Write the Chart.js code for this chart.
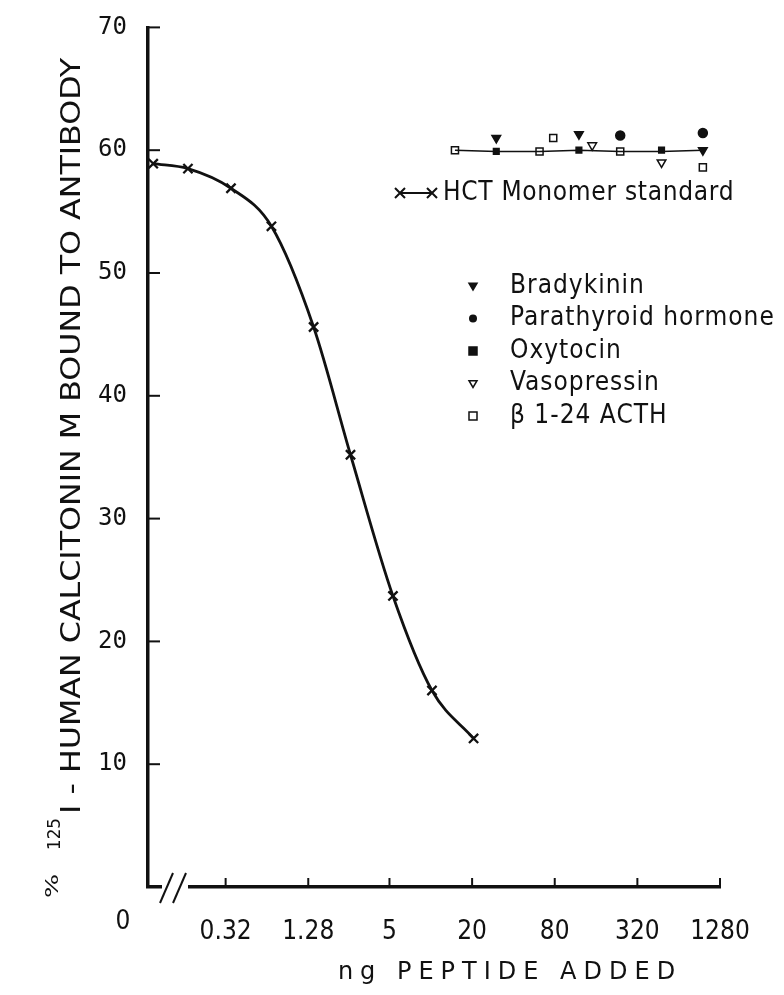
<!DOCTYPE html>
<html>
<head>
<meta charset="utf-8">
<script src="https://cdn.jsdelivr.net/npm/chart.js@4.4.0/dist/chart.umd.min.js"></script>
<style>
  html, body { margin: 0; padding: 0; background: #fff; }
  #wrap { width: 784px; height: 995px; }
</style>
</head>
<body>
<div id="wrap"><canvas id="chart" width="784" height="995"></canvas></div>
<script>
// HCT monomer standard curve
const doseNg = [0.095, 0.17, 0.35, 0.69, 1.4, 2.6, 5.3, 10.2, 20.5];
const boundPct = [58.9, 58.5, 56.9, 53.8, 45.6, 35.2, 23.7, 16.0, 12.1];

// peptides tested for cross-reactivity (row at the top right)
const linkDose = [15, 30, 62, 120, 240, 480, 960];
const linkPct = [60.0, 59.9, 59.9, 60.0, 59.9, 59.9, 60.0];
const bradykininDose = [30, 120, 960];
const bradykininPct = [61.0, 61.3, 60.0];
const pthDose = [240, 960];
const pthPct = [61.2, 61.4];
const oxytocinDose = [30, 120, 480];
const oxytocinPct = [59.9, 60.0, 60.0];
const vasopressinDose = [150, 480];
const vasopressinPct = [60.4, 59.0];
const acthDose = [15, 62, 78, 240, 960];
const acthPct = [60.0, 59.9, 61.0, 59.9, 58.6];

// axes
const xTickValues = [0.32, 1.28, 5, 20, 80, 320, 1280];
const xTickLabels = ["0.32", "1.28", "5", "20", "80", "320", "1280"];
const yTickValues = [10, 20, 30, 40, 50, 60, 70];

const black = "#111";
const condensed = '"DejaVu Sans Condensed", "DejaVu Sans", sans-serif';

function pts(xs, ys) {
  return xs.map((x, i) => ({ x: x, y: ys[i] }));
}

function markerSet(label, xs, ys, style, filled, rotation, radius) {
  return {
    label: label,
    data: pts(xs, ys),
    showLine: false,
    pointStyle: style,
    rotation: rotation || 0,
    pointRadius: radius,
    pointBorderWidth: 1.5,
    pointBorderColor: black,
    pointBackgroundColor: filled ? black : "#fff",
  };
}

// small symbol painter for the legend
function drawSymbol(ctx, kind, x, y, r) {
  ctx.save();
  ctx.strokeStyle = black;
  ctx.fillStyle = black;
  ctx.lineWidth = 1.5;
  ctx.beginPath();
  if (kind === "triDown" || kind === "triDownOpen") {
    ctx.moveTo(x - r, y - r * 0.7);
    ctx.lineTo(x + r, y - r * 0.7);
    ctx.lineTo(x, y + r);
    ctx.closePath();
    if (kind === "triDown") ctx.fill();
    ctx.stroke();
  } else if (kind === "circle") {
    ctx.arc(x, y, r, 0, Math.PI * 2);
    ctx.fill();
  } else if (kind === "square" || kind === "squareOpen") {
    ctx.rect(x - r, y - r, r * 2, r * 2);
    if (kind === "square") ctx.fill();
    ctx.stroke();
  }
  ctx.restore();
}

// text stretched along its run so it fills a given length
function fitText(ctx, text, font, x, y, len) {
  ctx.font = font;
  const w = ctx.measureText(text).width;
  ctx.save();
  ctx.translate(x, y);
  ctx.scale(len / w, 1);
  ctx.fillText(text, 0, 0);
  ctx.restore();
}

const legendRows = [
  { label: "Bradykinin", kind: "triDown" },
  { label: "Parathyroid hormone", kind: "circle" },
  { label: "Oxytocin", kind: "square" },
  { label: "Vasopressin", kind: "triDownOpen" },
  { label: "\u03b2 1-24 ACTH", kind: "squareOpen" },
];

const decorations = {
  id: "decorations",
  afterDraw(chart) {
    const ctx = chart.ctx;
    const xs = chart.scales.x;
    const ys = chart.scales.y;
    const area = chart.chartArea;

    ctx.save();
    ctx.strokeStyle = black;
    ctx.fillStyle = black;

    // inward tick marks
    ctx.lineWidth = 2;
    yTickValues.forEach((v) => {
      const y = ys.getPixelForValue(v);
      ctx.beginPath();
      ctx.moveTo(area.left, y);
      ctx.lineTo(area.left + 12, y);
      ctx.stroke();
    });
    xTickValues.forEach((v) => {
      const x = xs.getPixelForValue(v);
      ctx.beginPath();
      ctx.moveTo(x, area.bottom);
      ctx.lineTo(x, area.bottom - 9);
      ctx.stroke();
    });

    // axis break
    ctx.fillStyle = "#fff";
    ctx.fillRect(area.left + 14, area.bottom - 4, 26, 8);
    ctx.fillStyle = black;
    ctx.lineWidth = 2;
    [area.left + 18, area.left + 31].forEach((bx) => {
      ctx.beginPath();
      ctx.moveTo(bx - 6, area.bottom + 16);
      ctx.lineTo(bx + 7, area.bottom - 14);
      ctx.stroke();
    });

    // "0" at the origin of the x axis
    ctx.font = "26px " + condensed;
    ctx.textAlign = "center";
    ctx.textBaseline = "middle";
    ctx.fillText("0", area.left - 25, 922);

    // x axis title
    ctx.font = '24px "DejaVu Sans"';
    ctx.letterSpacing = "7px";
    ctx.textBaseline = "alphabetic";
    ctx.fillText("ng PEPTIDE ADDED", 510, 979);
    ctx.letterSpacing = "0px";

    // y axis title, rotated, with the small % and superscript 125
    ctx.save();
    ctx.translate(80, 0);
    ctx.rotate(-Math.PI / 2);
    ctx.textAlign = "left";
    ctx.textBaseline = "alphabetic";
    fitText(ctx, "I - HUMAN CALCITONIN M BOUND TO ANTIBODY", "27px " + condensed, -814, 0, 756);
    fitText(ctx, "125", "18px " + condensed, -850, -20, 32);
    fitText(ctx, "%", "17px " + condensed, -898, -22, 24);
    ctx.restore();

    // legend: standard curve
    const ly = 193;
    ctx.lineWidth = 2;
    ctx.beginPath();
    ctx.moveTo(400, ly);
    ctx.lineTo(432, ly);
    ctx.stroke();
    [400, 432].forEach((cx) => {
      ctx.beginPath();
      ctx.moveTo(cx - 5, ly - 5);
      ctx.lineTo(cx + 5, ly + 5);
      ctx.moveTo(cx + 5, ly - 5);
      ctx.lineTo(cx - 5, ly + 5);
      ctx.stroke();
    });
    ctx.font = "26px " + condensed;
    ctx.letterSpacing = "0.7px";
    ctx.textAlign = "left";
    ctx.textBaseline = "middle";
    ctx.fillText("HCT Monomer standard", 443, ly);

    // legend: peptides
    ctx.letterSpacing = "1px";
    legendRows.forEach((row, i) => {
      const y = 286 + i * 32.5;
      drawSymbol(ctx, row.kind, 473, y, 4);
      ctx.fillStyle = black;
      ctx.fillText(row.label, 510, y);
    });
    ctx.letterSpacing = "0px";

    ctx.restore();
  },
};

new Chart(document.getElementById("chart"), {
  type: "line",
  data: {
    datasets: [
      {
        label: "HCT Monomer standard",
        data: pts(doseNg, boundPct),
        borderColor: black,
        borderWidth: 2.8,
        cubicInterpolationMode: "monotone",
        pointStyle: "crossRot",
        pointRadius: 6.5,
        pointBorderWidth: 2.3,
        pointBorderColor: black,
        fill: false,
      },
      {
        label: "link",
        data: pts(linkDose, linkPct),
        borderColor: black,
        borderWidth: 1.5,
        pointRadius: 0,
        fill: false,
      },
      markerSet("Bradykinin", bradykininDose, bradykininPct, "triangle", true, 180, 5),
      markerSet("Parathyroid hormone", pthDose, pthPct, "circle", true, 0, 4.5),
      markerSet("Oxytocin", oxytocinDose, oxytocinPct, "rect", true, 0, 4),
      markerSet("Vasopressin", vasopressinDose, vasopressinPct, "triangle", false, 180, 5),
      markerSet("β 1-24 ACTH", acthDose, acthPct, "rect", false, 0, 5),
    ],
  },
  options: {
    responsive: false,
    animation: false,
    layout: { padding: { top: 18, right: 64, left: 0, bottom: 0 } },
    plugins: {
      legend: { display: false },
      tooltip: { enabled: false },
    },
    scales: {
      x: {
        type: "logarithmic",
        min: 0.087,
        max: 1280,
        afterFit: (scale) => { scale.height = 108; },
        afterBuildTicks: (scale) => {
          scale.ticks = xTickValues.map((v) => ({ value: v }));
        },
        grid: { display: false },
        border: { display: true, color: black, width: 3.5 },
        ticks: {
          autoSkip: false,
          maxRotation: 0,
          padding: 22,
          color: black,
          font: { family: condensed, size: 26 },
          callback: function (value, index) {
            return xTickLabels[index];
          },
        },
      },
      y: {
        type: "linear",
        min: 0,
        max: 70,
        afterFit: (scale) => { scale.width = 148; },
        afterBuildTicks: (scale) => {
          scale.ticks = yTickValues.map((v) => ({ value: v }));
        },
        grid: { display: false },
        border: { display: true, color: black, width: 3.5 },
        ticks: {
          padding: 13,
          color: black,
          font: { family: "DejaVu Sans Mono", size: 24 },
        },
      },
    },
  },
  plugins: [decorations],
});
</script>
</body>
</html>
